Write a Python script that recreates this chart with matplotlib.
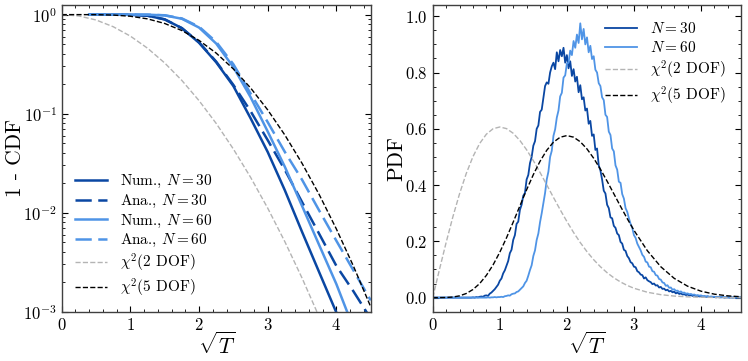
import numpy as np
import matplotlib
matplotlib.use("Agg")
import matplotlib.pyplot as plt

plt.rcParams.update({
    "font.family": "serif",
    "font.serif": ["cmr10", "DejaVu Serif"],
    "mathtext.fontset": "cm",
    "axes.formatter.use_mathtext": True,
    "xtick.direction": "in",
    "ytick.direction": "in",
    "xtick.top": True,
    "ytick.right": True,
    "xtick.major.size": 4,
    "ytick.major.size": 4,
    "xtick.minor.size": 2,
    "ytick.minor.size": 2,
    "axes.edgecolor": "#404040",
    "axes.linewidth": 1.0,
})

DARK = "#0a47a3"
LIGHT = "#4f94e6"
GRAY = "#b4b4b4"

# ---------------- left panel: 1 - CDF ----------------
cdf_x = [0.4, 0.75, 1.0, 1.25, 1.5, 1.75, 2.0, 2.25, 2.5, 2.75, 3.0, 3.25, 3.5,
         3.75, 4.0, 4.25, 4.5]
num30_sf = [1.0, 1.0, 0.995, 0.975, 0.895, 0.73, 0.52, 0.33, 0.19, 0.09, 0.041,
            0.0168, 0.0064, 0.0025, 0.00098, 0.0003, 0.0001]
ana30_sf = [1.0, 1.0, 0.997, 0.975, 0.895, 0.73, 0.525, 0.335, 0.195, 0.106,
            0.054, 0.027, 0.0128, 0.0061, 0.0029, 0.0016, 0.00085]
num60_sf = [1.0, 1.0, 1.0, 0.999, 0.982, 0.908, 0.74, 0.51, 0.295, 0.147,
            0.066, 0.029, 0.0117, 0.0047, 0.0019, 0.00068, 0.0002]
ana60_sf = [1.0, 1.0, 1.0, 0.999, 0.985, 0.915, 0.755, 0.53, 0.315, 0.16,
            0.082, 0.041, 0.0215, 0.0105, 0.0052, 0.0026, 0.0013]

chi5_sf_x = [0.0, 0.25, 0.5, 0.75, 1.0, 1.25, 1.5, 1.75, 2.0, 2.25, 2.5, 2.75,
             3.0, 3.25, 3.5, 3.75, 4.0, 4.25, 4.5]
chi5_sf = [1.0, 0.99993, 0.99848, 0.98963, 0.96252, 0.90569, 0.81372, 0.69045,
           0.5493, 0.40848, 0.2826, 0.18202, 0.10908, 0.06078, 0.0315, 0.01522,
           0.00684, 0.002869, 0.00112]
chi2_sf_x = [0.0, 0.25, 0.5, 0.75, 1.0, 1.25, 1.5, 1.75, 2.0, 2.25, 2.5, 2.75,
             3.0, 3.25, 3.5, 3.75, 4.0]
chi2_sf = [1.0, 0.9692, 0.8825, 0.7548, 0.6065, 0.4578, 0.3247, 0.2163, 0.1353,
           0.0796, 0.0439, 0.02279, 0.01111, 0.005086, 0.002187, 0.000884,
           0.000335]

# ---------------- right panel: PDF ----------------
pdf_x0, pdf_dx, pdf_n = 0.0, 0.025, 185
pdf30 = [
    0, 0, 0, 0, 0, 0, 0, 0, 0, 0,
    0, 0, 0, 0, 0, 0, 0, 0, 0, 0,
    0, 0, 0, 0, 0.001, 0, 0.002, 0.001, 0.003, 0.004,
    0.003, 0.007, 0.008, 0.006, 0.014, 0.018, 0.024, 0.030, 0.038, 0.046,
    0.060, 0.068, 0.086, 0.097, 0.114, 0.130, 0.158, 0.170, 0.205, 0.222,
    0.262, 0.270, 0.312, 0.330, 0.362, 0.372, 0.420, 0.436, 0.478, 0.500,
    0.540, 0.556, 0.600, 0.612, 0.660, 0.668, 0.710, 0.752, 0.765, 0.760,
    0.800, 0.822, 0.835, 0.812, 0.872, 0.840, 0.880, 0.858, 0.888, 0.835,
    0.862, 0.815, 0.840, 0.788, 0.812, 0.768, 0.785, 0.730, 0.755, 0.705,
    0.712, 0.665, 0.672, 0.618, 0.628, 0.575, 0.580, 0.525, 0.530, 0.470,
    0.452, 0.420, 0.380, 0.370, 0.330, 0.318, 0.285, 0.282, 0.255, 0.248,
    0.228, 0.222, 0.198, 0.192, 0.170, 0.166, 0.148, 0.140, 0.126, 0.122,
    0.110, 0.108, 0.094, 0.090, 0.082, 0.080, 0.068, 0.072, 0.062, 0.058,
    0.055, 0.048, 0.050, 0.043, 0.044, 0.036, 0.038, 0.031, 0.032, 0.026,
    0.028, 0.022, 0.024, 0.019, 0.021, 0.015, 0.018, 0.013, 0.015, 0.011,
    0.012, 0.009, 0.011, 0.008, 0.009, 0.006, 0.008, 0.005, 0.006, 0.004,
    0.006, 0.003, 0.004, 0.003, 0.004, 0.002, 0.003, 0.002, 0.002, 0.001,
    0.002, 0.001, 0.001, 0.002, 0.000, 0.001, 0.001, 0.000, 0.001, 0.000,
    0.001, 0.000, 0.000, 0.001, 0.000,
]
pdf60 = [
    0, 0, 0, 0, 0, 0, 0, 0, 0, 0,
    0, 0, 0, 0, 0, 0, 0, 0, 0, 0,
    0, 0, 0, 0, 0, 0, 0, 0, 0, 0,
    0, 0, 0, 0.001, 0, 0.001, 0.001, 0.002, 0.001, 0.002,
    0.002, 0.003, 0.002, 0.005, 0.006, 0.008, 0.007, 0.012, 0.014, 0.015,
    0.020, 0.022, 0.028, 0.034, 0.040, 0.052, 0.060, 0.078, 0.098, 0.115,
    0.148, 0.168, 0.205, 0.228, 0.268, 0.300, 0.335, 0.372, 0.420, 0.448,
    0.500, 0.522, 0.575, 0.598, 0.640, 0.665, 0.715, 0.728, 0.782, 0.790,
    0.832, 0.835, 0.878, 0.862, 0.912, 0.888, 0.935, 0.905, 0.975, 0.918,
    0.955, 0.900, 0.925, 0.872, 0.895, 0.848, 0.858, 0.810, 0.800, 0.762,
    0.752, 0.712, 0.702, 0.650, 0.642, 0.590, 0.578, 0.530, 0.520, 0.470,
    0.455, 0.412, 0.408, 0.368, 0.352, 0.318, 0.305, 0.282, 0.262, 0.248,
    0.222, 0.212, 0.192, 0.180, 0.168, 0.152, 0.145, 0.128, 0.125, 0.110,
    0.108, 0.094, 0.092, 0.080, 0.078, 0.066, 0.064, 0.054, 0.052, 0.042,
    0.044, 0.035, 0.036, 0.028, 0.030, 0.024, 0.025, 0.020, 0.022, 0.017,
    0.018, 0.014, 0.015, 0.012, 0.013, 0.010, 0.011, 0.008, 0.009, 0.007,
    0.008, 0.005, 0.006, 0.004, 0.005, 0.003, 0.004, 0.003, 0.003, 0.002,
    0.003, 0.002, 0.002, 0.001, 0.002, 0.001, 0.001, 0.002, 0.000, 0.001,
    0.001, 0.000, 0.001, 0.000, 0.000,
]
pdf_x = np.round(pdf_x0 + pdf_dx * np.arange(pdf_n), 4)

chi_pdf_x = [0.0, 0.1, 0.2, 0.3, 0.4, 0.5, 0.6, 0.7, 0.8, 0.9, 1.0, 1.1, 1.2,
             1.3, 1.4, 1.5, 1.6, 1.7, 1.8, 1.9, 2.0, 2.1, 2.2, 2.3, 2.4, 2.5,
             2.6, 2.7, 2.8, 2.9, 3.0, 3.2, 3.4, 3.6, 3.8, 4.0, 4.2, 4.4, 4.6]
chi2_pdf = [0.0, 0.0995, 0.1960, 0.2868, 0.3692, 0.4412, 0.5012, 0.5479, 0.5809,
            0.6003, 0.6065, 0.6007, 0.5841, 0.5584, 0.5254, 0.4870, 0.4449,
            0.4008, 0.3562, 0.3125, 0.2707, 0.2315, 0.1956, 0.1633, 0.1347,
            0.1098, 0.0885, 0.0705, 0.0556, 0.0433, 0.0333, 0.0191, 0.0105,
            0.0055, 0.0028, 0.0013, 0.00062, 0.00028, 0.00012]
chi5_pdf = [0.0, 0.00003, 0.00042, 0.00206, 0.00629, 0.01467, 0.02879, 0.04998,
            0.07911, 0.11639, 0.16132, 0.21264, 0.26845, 0.32630, 0.38347,
            0.43712, 0.48463, 0.52370, 0.55253, 0.57006, 0.57594, 0.57027,
            0.55401, 0.52843, 0.49529, 0.45650, 0.41383, 0.36918, 0.32434,
            0.28066, 0.23934, 0.16666, 0.10979, 0.06853, 0.04059, 0.02284,
            0.01223, 0.00624, 0.00303]

fig = plt.figure(figsize=(7.48, 3.61), dpi=100)
ax1 = fig.add_axes([0.0825, 0.1366, 0.4131, 0.8495])
ax2 = fig.add_axes([0.5785, 0.1366, 0.4125, 0.8495])

lw_b = 1.8
ana_dash = (6.5, 2.6)
ax1.plot(cdf_x, num30_sf, color=DARK, lw=lw_b, label=r"Num., $N = 30$")
ax1.plot(cdf_x, ana30_sf, color=DARK, lw=lw_b, ls=(0, ana_dash), label=r"Ana., $N = 30$")
ax1.plot(cdf_x, num60_sf, color=LIGHT, lw=lw_b, label=r"Num., $N = 60$")
ax1.plot(cdf_x, ana60_sf, color=LIGHT, lw=lw_b, ls=(0, ana_dash), label=r"Ana., $N = 60$")
ax1.plot(chi2_sf_x, chi2_sf, color=GRAY, lw=1.0, ls="--", label=r"$\chi^2$(2 DOF)")
ax1.plot(chi5_sf_x, chi5_sf, color="black", lw=1.0, ls="--", label=r"$\chi^2$(5 DOF)")
ax1.set_yscale("log")
ax1.set_xlim(0, 4.5)
ax1.set_ylim(1e-3, 1.25)
ax1.set_xticks([0, 1, 2, 3, 4])
ax1.minorticks_on()
ax1.set_xlabel(r"$\sqrt{T}$", fontsize=15.5)
ax1.set_ylabel("1 - CDF", fontsize=15.5)
ax1.xaxis.set_label_coords(0.5, -0.066)
ax1.yaxis.set_label_coords(-0.119, 0.5)
ax1.tick_params(labelsize=12)
ax1.legend(loc="lower left", frameon=False, fontsize=11, handlelength=2.1,
           labelspacing=0.17, borderaxespad=0.45, handletextpad=0.85)

ax2.plot(pdf_x, pdf30, color=DARK, lw=1.3, label=r"$N = 30$")
ax2.plot(pdf_x, pdf60, color=LIGHT, lw=1.3, label=r"$N = 60$")
ax2.plot(chi_pdf_x, chi2_pdf, color=GRAY, lw=1.0, ls="--", label=r"$\chi^2$(2 DOF)")
ax2.plot(chi_pdf_x, chi5_pdf, color="black", lw=1.0, ls="--", label=r"$\chi^2$(5 DOF)")
ax2.set_xlim(0, 4.6)
ax2.set_ylim(-0.05, 1.04)
ax2.set_xticks([0, 1, 2, 3, 4])
ax2.set_yticks([0.0, 0.2, 0.4, 0.6, 0.8, 1.0])
ax2.minorticks_on()
ax2.set_xlabel(r"$\sqrt{T}$", fontsize=15.5)
ax2.set_ylabel("PDF", fontsize=15.5)
ax2.xaxis.set_label_coords(0.5, -0.066)
ax2.yaxis.set_label_coords(-0.087, 0.5)
ax2.tick_params(labelsize=12)
ax2.legend(loc="upper right", frameon=False, fontsize=11, handlelength=2.1,
           labelspacing=0.25, borderaxespad=0.65, handletextpad=0.85)

fig.savefig("out.png", dpi=100)
